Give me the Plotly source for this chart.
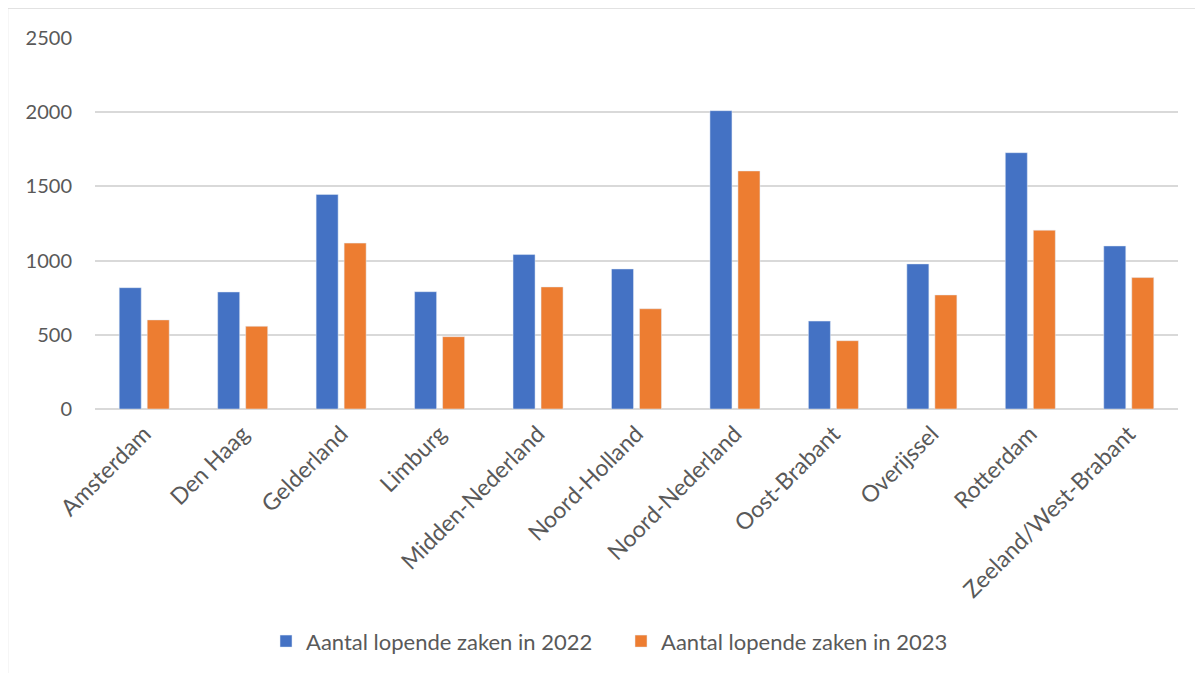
import plotly.graph_objects as go

categories = ["Amsterdam", "Den Haag", "Gelderland", "Limburg", "Midden-Nederland",
              "Noord-Holland", "Noord-Nederland", "Oost-Brabant", "Overijssel",
              "Rotterdam", "Zeeland/West-Brabant"]
zaken_2022 = [817, 788, 1445, 790, 1040, 943, 2009, 592, 977, 1726, 1098]
zaken_2023 = [600, 557, 1117, 487, 822, 675, 1603, 460, 768, 1204, 885]
series_names = ["Aantal lopende zaken in 2022", "Aantal lopende zaken in 2023"]
y_ticks = [0, 500, 1000, 1500, 2000, 2500]

FONT = "Lato"
TXT = "#595959"
GRID = "#d9d9d9"

fig = go.Figure()
fig.add_trace(go.Bar(x=categories, y=zaken_2022, name=series_names[0],
                     marker=dict(color="#4472C4")))
fig.add_trace(go.Bar(x=categories, y=zaken_2023, name=series_names[1],
                     marker=dict(color="#ED7D31")))

fig.update_layout(
    width=1195, height=665,
    margin=dict(l=87, r=25, t=28.96, b=264.2, autoexpand=False),
    paper_bgcolor="white", plot_bgcolor="white",
    barmode="group", bargap=0.431, bargroupgap=0.214,
    font=dict(family=FONT, color=TXT, size=20),
    showlegend=True,
    legend=dict(orientation="h", x=0.4857, xanchor="center", y=-0.6245, yanchor="middle",
                font=dict(size=22, color=TXT, family=FONT),
                entrywidth=310, itemwidth=30, bgcolor="rgba(0,0,0,0)"),
    xaxis=dict(showgrid=False, tickangle=-45, ticks="", showline=False,
               ticklabelstandoff=6,
               tickfont=dict(size=23, color=TXT, family=FONT)),
    yaxis=dict(range=[0, 2505], tickvals=y_ticks, showgrid=True, gridcolor=GRID,
               gridwidth=1.5, zeroline=True, zerolinecolor=GRID, zerolinewidth=1.5,
               showline=False, ticks="", ticklabelstandoff=22,
               tickfont=dict(size=20, color=TXT, family=FONT)),
    shapes=[dict(type="rect", xref="paper", yref="paper",
                 x0=-0.0808, x1=1.5, y0=-1.5, y1=1.0779,
                 line=dict(color=GRID, width=1.5), fillcolor="rgba(0,0,0,0)",
                 layer="below")],
)

fig.write_html("out.html")
